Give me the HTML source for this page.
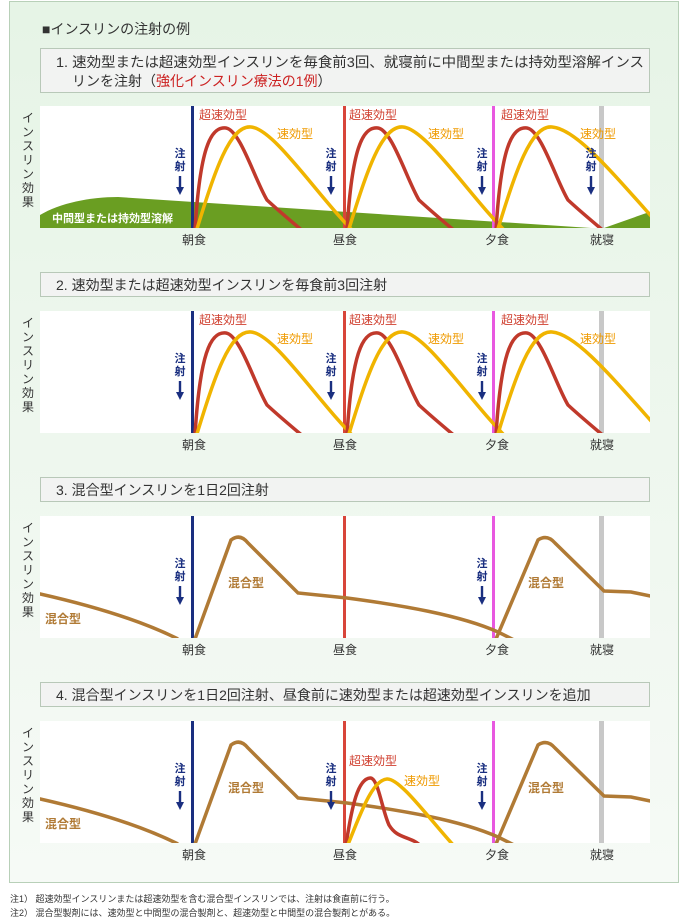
<!DOCTYPE html>
<html><head><meta charset="utf-8"><style>
html,body{margin:0;padding:0;width:690px;height:917px;overflow:hidden;background:#fff;}
svg{display:block;font-family:"Liberation Sans","Noto Sans CJK JP",sans-serif;}
</style></head><body>
<svg width="690" height="917" viewBox="0 0 690 917" xmlns="http://www.w3.org/2000/svg">
<defs>
<linearGradient id="bg" x1="0" y1="0" x2="0" y2="1">
<stop offset="0" stop-color="#e6f4e6"/><stop offset="1" stop-color="#f6faf6"/>
</linearGradient>
<clipPath id="pc"><rect x="40" y="106" width="610" height="122"/></clipPath>
<g id="vlines">
<rect x="191" y="106" width="3" height="122" fill="#1a2f80"/>
<rect x="343" y="106" width="3" height="122" fill="#d8453a"/>
<rect x="492" y="106" width="3" height="122" fill="#e858e0"/>
<rect x="599" y="106" width="5" height="122" fill="#c8c8c8"/>
</g>
<g id="meals" font-size="12" fill="#333" text-anchor="middle">
<text x="194" y="244">朝食</text><text x="345" y="244">昼食</text><text x="497" y="244">夕食</text><text x="602" y="244">就寝</text>
</g>
<g id="ylab" font-size="12" fill="#333" text-anchor="middle">
<text x="28" y="122">イ</text><text x="28" y="136">ン</text><text x="28" y="150">ス</text><text x="28" y="164">リ</text><text x="28" y="178">ン</text><text x="28" y="192">効</text><text x="28" y="206">果</text>
</g>
<g id="inj">
<text x="0" y="157" font-size="11" font-weight="bold" fill="#1a2f80" text-anchor="middle">注</text>
<text x="0" y="170" font-size="11" font-weight="bold" fill="#1a2f80" text-anchor="middle">射</text>
<rect x="-1.2" y="176" width="2.4" height="12" fill="#1a2f80"/>
<path d="M-4,187 L4,187 L0,195 Z" fill="#1a2f80"/>
</g>
<g id="rapid">
<path d="M195,230 C200,150 210,126 226,128 C240,130 255,180 267,200 C280,212 292,222 304,232" fill="none" stroke="#c0392b" stroke-width="3.5"/>
<path d="M196,232 C215,170 230,125 251,127 C275,129 320,200 360,238" fill="none" stroke="#f0b400" stroke-width="3.5"/>
</g>
<g id="rapid3">
<path d="M496,230 C501,150 511,126 527,128 C541,130 556,180 568,200 C581,212 593,222 605,232" fill="none" stroke="#c0392b" stroke-width="3.5"/>
<path d="M497,232 C516,170 531,125 552,127 C576,129 610,170 660,226" fill="none" stroke="#f0b400" stroke-width="3.5"/>
</g>
<g id="mix">
<path d="M36,388 C90,400 140,415 178,434" fill="none" stroke="#b07a35" stroke-width="3.5"/>
<path d="M195,434 L231,335 Q240,328 248,338 L298,388 L347,393 C400,400 460,410 498,427 L520,438" fill="none" stroke="#b07a35" stroke-width="3.5"/>
<path d="M496,434 L538,335 Q547,329 555,338 L604,386 L631,387 L655,392" fill="none" stroke="#b07a35" stroke-width="3.5"/>
</g>
</defs>
<rect x="0" y="0" width="690" height="917" fill="#fff"/>
<rect x="9.5" y="1.5" width="669" height="881" fill="url(#bg)" stroke="#b8d0b8"/>
<text x="42" y="34" font-size="14" fill="#333">■インスリンの注射の例</text>

<!-- Panel 1 -->
<rect x="40.5" y="48.5" width="609" height="44" fill="#f2f3f2" stroke="#b8c8b8"/>
<text x="56" y="67" font-size="14" fill="#333" textLength="588" lengthAdjust="spacingAndGlyphs">1. 速効型または超速効型インスリンを毎食前3回、就寝前に中間型または持効型溶解インス</text>
<text x="72" y="86" font-size="14" fill="#333">リンを注射（<tspan fill="#cc2222">強化インスリン療法の1例</tspan>）</text>
<rect x="40" y="106" width="610" height="122" fill="#fff"/>
<g clip-path="url(#pc)">
<path d="M40,228 L40,215 C60,203 90,197 118,197 L591,228 Z" fill="#6a9e22"/>
<path d="M604,228 L655,210 L655,228 Z" fill="#6a9e22"/>
<use href="#vlines"/>
<use href="#rapid"/>
<use href="#rapid" transform="translate(152,0)"/>
<use href="#rapid3"/>
</g>
<text x="52" y="222" font-size="11" font-weight="bold" fill="#fff">中間型または持効型溶解</text>
<g font-size="12">
<text x="199" y="119" fill="#d04030">超速効型</text><text x="277" y="138" fill="#ef9a00">速効型</text>
<text x="349" y="119" fill="#d04030">超速効型</text><text x="428" y="138" fill="#ef9a00">速効型</text>
<text x="501" y="119" fill="#d04030">超速効型</text><text x="580" y="138" fill="#ef9a00">速効型</text>
</g>
<use href="#inj" transform="translate(180,0)"/><use href="#inj" transform="translate(331,0)"/><use href="#inj" transform="translate(482,0)"/><use href="#inj" transform="translate(591,0)"/>
<use href="#meals"/><use href="#ylab"/>

<!-- Panel 2 -->
<rect x="40.5" y="272.5" width="609" height="24" fill="#f2f3f2" stroke="#b8c8b8"/>
<text x="56" y="290" font-size="14" fill="#333">2. 速効型または超速効型インスリンを毎食前3回注射</text>
<g transform="translate(0,205)">
<rect x="40" y="106" width="610" height="122" fill="#fff"/>
<g clip-path="url(#pc)">
<use href="#vlines"/>
<use href="#rapid"/>
<use href="#rapid" transform="translate(152,0)"/>
<use href="#rapid3"/>
</g>
<g font-size="12">
<text x="199" y="119" fill="#d04030">超速効型</text><text x="277" y="138" fill="#ef9a00">速効型</text>
<text x="349" y="119" fill="#d04030">超速効型</text><text x="428" y="138" fill="#ef9a00">速効型</text>
<text x="501" y="119" fill="#d04030">超速効型</text><text x="580" y="138" fill="#ef9a00">速効型</text>
</g>
<use href="#inj" transform="translate(180,0)"/><use href="#inj" transform="translate(331,0)"/><use href="#inj" transform="translate(482,0)"/>
<use href="#meals"/><use href="#ylab"/>
</g>

<!-- Panel 3 -->
<rect x="40.5" y="477.5" width="609" height="24" fill="#f2f3f2" stroke="#b8c8b8"/>
<text x="56" y="495" font-size="14" fill="#333">3. 混合型インスリンを1日2回注射</text>
<g transform="translate(0,410)">
<rect x="40" y="106" width="610" height="122" fill="#fff"/>
<g clip-path="url(#pc)">
<use href="#vlines"/>
<g transform="translate(0,-205)"><use href="#mix"/></g>
</g>
<g font-size="12" fill="#b07a35" font-weight="bold">
<text x="45" y="213">混合型</text><text x="228" y="177">混合型</text><text x="528" y="177">混合型</text>
</g>
<use href="#inj" transform="translate(180,0)"/><use href="#inj" transform="translate(482,0)"/>
<use href="#meals"/><use href="#ylab"/>
</g>

<!-- Panel 4 -->
<rect x="40.5" y="682.5" width="609" height="24" fill="#f2f3f2" stroke="#b8c8b8"/>
<text x="56" y="700" font-size="14" fill="#333">4. 混合型インスリンを1日2回注射、昼食前に速効型または超速効型インスリンを追加</text>
<g transform="translate(0,615)">
<rect x="40" y="106" width="610" height="122" fill="#fff"/>
<g clip-path="url(#pc)">
<use href="#vlines"/>
<g transform="translate(0,-205)"><use href="#mix"/></g>
<path d="M346,230 C352,190 358,164 370,163 C378,162 382,195 389,210 C398,225 410,220 422,232" fill="none" stroke="#c0392b" stroke-width="3.5"/>
<path d="M347,232 C360,200 372,165 387,164 C400,163 430,205 455,232" fill="none" stroke="#f0b400" stroke-width="3.5"/>
</g>
<g font-size="12">
<text x="349" y="150" fill="#d04030">超速効型</text><text x="404" y="170" fill="#ef9a00">速効型</text>
</g>
<g font-size="12" fill="#b07a35" font-weight="bold">
<text x="45" y="213">混合型</text><text x="228" y="177">混合型</text><text x="528" y="177">混合型</text>
</g>
<use href="#inj" transform="translate(180,0)"/><use href="#inj" transform="translate(331,0)"/><use href="#inj" transform="translate(482,0)"/>
<use href="#meals"/><use href="#ylab"/>
</g>

<text x="10" y="902" font-size="9" fill="#333">注1） 超速効型インスリンまたは超速効型を含む混合型インスリンでは、注射は食直前に行う。</text>
<text x="10" y="916" font-size="9" fill="#333">注2） 混合型製剤には、速効型と中間型の混合製剤と、超速効型と中間型の混合製剤とがある。</text>
</svg>
</body></html>
